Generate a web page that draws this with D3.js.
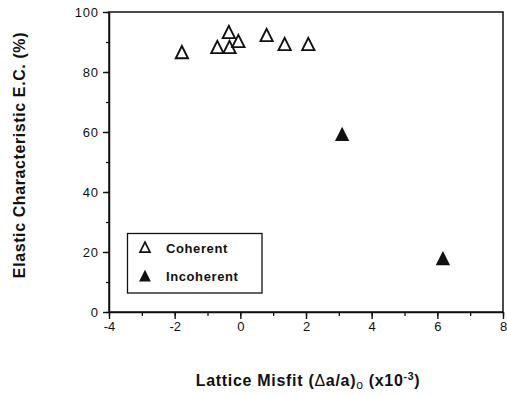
<!DOCTYPE html>
<html>
<head>
<meta charset="utf-8">
<script src="https://cdn.jsdelivr.net/npm/d3@7/dist/d3.min.js"></script>
<style>
  html, body { margin: 0; padding: 0; background: #fff; }
  svg { display: block; }
  text { font-family: "Liberation Sans", Arial, Helvetica, sans-serif; fill: #111; }
</style>
</head>
<body>
<svg id="chart" width="507" height="395"></svg>
<script>
// Lattice misfit (x10^-3) vs elastic characteristic (%)
const coherentMisfit = [-1.78, -0.7, -0.35, -0.33, -0.06, 0.8, 1.35, 2.07];
const coherentEC     = [86.3, 88, 93, 88, 90, 92, 89, 89];
const incoherentMisfit = [3.1, 6.17];
const incoherentEC     = [59, 17.6];

const xTicks = [-4, -2, 0, 2, 4, 6, 8];
const yTicks = [0, 20, 40, 60, 80, 100];
const xMinor = d3.range(-4, 8.01, 1);
const yMinor = d3.range(0, 100.01, 10);

const svg = d3.select("#chart");
const plot = { left: 109, right: 503, top: 12, bottom: 312 };

const x = d3.scaleLinear().domain([-4, 8]).range([plot.left, plot.right]);
const y = d3.scaleLinear().domain([0, 100]).range([plot.bottom, plot.top]);

const ink = "#111";

// Triangle symbol a bit taller than equilateral (height ≈ base)
const tallTriangle = {
  draw(ctx, size) {
    const w = Math.sqrt(size);
    const h = w;
    ctx.moveTo(0, -h * 0.58);
    ctx.lineTo(w / 2, h * 0.42);
    ctx.lineTo(-w / 2, h * 0.42);
    ctx.closePath();
  }
};

// Frame: top and right edges
svg.append("rect")
  .attr("x", plot.left).attr("y", plot.top)
  .attr("width", plot.right - plot.left).attr("height", plot.bottom - plot.top)
  .attr("fill", "none").attr("stroke", ink).attr("stroke-width", 1.5);

// Minor ticks
const xMinorAxis = d3.axisBottom(x).tickValues(xMinor).tickSize(4).tickFormat("");
const yMinorAxis = d3.axisLeft(y).tickValues(yMinor).tickSize(3).tickFormat("");
svg.append("g").attr("transform", `translate(0,${plot.bottom})`).call(xMinorAxis)
  .call(g => g.select(".domain").remove())
  .selectAll("line").attr("stroke", ink).attr("stroke-width", 1.3);
svg.append("g").attr("transform", `translate(${plot.left},0)`).call(yMinorAxis)
  .call(g => g.select(".domain").remove())
  .selectAll("line").attr("stroke", ink).attr("stroke-width", 1.3);

// Major axes
const xAxis = d3.axisBottom(x).tickValues(xTicks).tickSize(7).tickSizeOuter(0).tickPadding(3).tickFormat(d3.format("d"));
const yAxis = d3.axisLeft(y).tickValues(yTicks).tickSize(6).tickSizeOuter(0).tickPadding(5).tickFormat(d3.format("d"));

const gx = svg.append("g").attr("transform", `translate(0,${plot.bottom})`).call(xAxis);
const gy = svg.append("g").attr("transform", `translate(${plot.left},0)`).call(yAxis);
[gx, gy].forEach(g => {
  g.select(".domain").attr("stroke", ink).attr("stroke-width", 1.5);
  g.selectAll(".tick line").attr("stroke", ink).attr("stroke-width", 1.4);
  g.selectAll(".tick text")
    .attr("fill", ink)
    .style("font-family", '"Liberation Sans", Arial, sans-serif')
    .style("font-size", "13px");
});
gx.selectAll(".tick text").text(d => d < 0 ? "-" + Math.abs(d) : d);
gy.selectAll(".tick text").style("letter-spacing", "0.8px").attr("dx", "0.8");

// Axis titles
svg.append("text")
  .attr("x", 308).attr("y", 386)
  .attr("text-anchor", "middle")
  .style("font-size", "16px").style("font-weight", "bold")
  .style("letter-spacing", "0.7px")
  .call(t => {
    t.append("tspan").text("Lattice Misfit (");
    t.append("tspan").text("\u0394").style("font-weight", "normal");
    t.append("tspan").text("a/a)");
    t.append("tspan").text("o").attr("dy", 3).style("font-size", "12px").style("font-weight", "normal");
    t.append("tspan").text(" (x10").attr("dy", -3);
    t.append("tspan").text("-3").attr("dy", -6).style("font-size", "10.5px");
    t.append("tspan").text(")").attr("dy", 6);
  });

svg.append("text")
  .attr("transform", "translate(25,155) rotate(-90)")
  .attr("text-anchor", "middle")
  .style("font-size", "16px").style("font-weight", "bold")
  .style("letter-spacing", "0.6px")
  .text("Elastic Characteristic E.C. (%)");

// Data points
const coherent = coherentMisfit.map((m, i) => ({ m, ec: coherentEC[i] }));
const incoherent = incoherentMisfit.map((m, i) => ({ m, ec: incoherentEC[i] }));

svg.append("g").selectAll("path").data(coherent).join("path")
  .attr("transform", d => `translate(${x(d.m)},${y(d.ec)})`)
  .attr("d", d3.symbol(tallTriangle, 150))
  .attr("fill", "#fff").attr("stroke", ink).attr("stroke-width", 1.9)
  .attr("stroke-linejoin", "miter");

svg.append("g").selectAll("path").data(incoherent).join("path")
  .attr("transform", d => `translate(${x(d.m)},${y(d.ec)})`)
  .attr("d", d3.symbol(tallTriangle, 205))
  .attr("fill", ink).attr("stroke", "none");

// Legend
const legend = svg.append("g");
legend.append("rect")
  .attr("x", 127.5).attr("y", 233.5).attr("width", 134.5).attr("height", 59.5)
  .attr("fill", "#fff").attr("stroke", ink).attr("stroke-width", 1.3);
legend.append("path")
  .attr("transform", "translate(145,248)")
  .attr("d", d3.symbol(tallTriangle, 100))
  .attr("fill", "#fff").attr("stroke", ink).attr("stroke-width", 1.7);
legend.append("path")
  .attr("transform", "translate(145,276.5)")
  .attr("d", d3.symbol(tallTriangle, 140))
  .attr("fill", ink);
legend.append("text").attr("x", 166).attr("y", 252.5)
  .style("font-size", "13px").style("font-weight", "bold").style("letter-spacing", "0.6px")
  .text("Coherent");
legend.append("text").attr("x", 166).attr("y", 281)
  .style("font-size", "13px").style("font-weight", "bold").style("letter-spacing", "0.6px")
  .text("Incoherent");
</script>
</body>
</html>
